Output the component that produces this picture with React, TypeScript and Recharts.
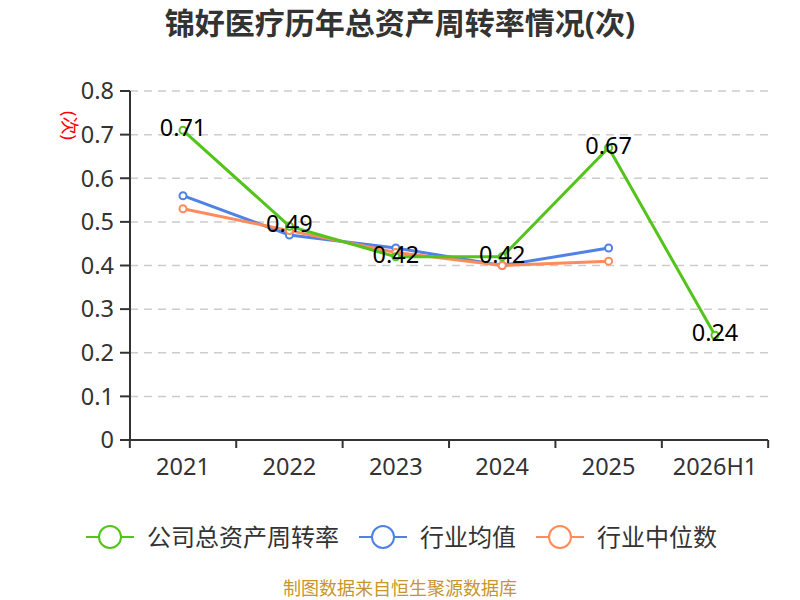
import { CartesianGrid, LabelList, Legend, Line, LineChart, XAxis, YAxis } from 'recharts';

const FONT = '"Noto Sans", "Noto Sans CJK SC", sans-serif';
const GREEN = '#52c41a';
const BLUE = '#4f81e6';
const ORANGE = '#ff8a5b';
const AXIS = '#333333';
const STEP = 638 / 6; // width of one category slot

const years = ['2021', '2022', '2023', '2024', '2025', '2026H1'];
const company = [0.71, 0.49, 0.42, 0.42, 0.67, 0.24];
const industryAvg = [0.56, 0.47, 0.44, 0.4, 0.44, null];
const industryMedian = [0.53, 0.48, 0.43, 0.4, 0.41, null];
const yTicks = [0, 0.1, 0.2, 0.3, 0.4, 0.5, 0.6, 0.7, 0.8];

const data = years.map((year, i) => ({
  year,
  company: company[i],
  avg: industryAvg[i],
  median: industryMedian[i],
}));

const legendItems = [
  { name: '公司总资产周转率', color: GREEN },
  { name: '行业均值', color: BLUE },
  { name: '行业中位数', color: ORANGE },
];

function ValueLabel(props: any) {
  const { x, y, value } = props;
  return (
    <text x={x} y={y - 3} textAnchor="middle" dominantBaseline="central" fontSize={23.5} fill="#000" fontFamily={FONT}>
      {value}
    </text>
  );
}

// category label in the middle, tick marks on the slot boundaries
function YearTick(props: any) {
  const { x, y, payload, index, visibleTicksCount } = props;
  const last = index === visibleTicksCount - 1;
  return (
    <g>
      <line x1={x - STEP / 2} y1={y} x2={x - STEP / 2} y2={y + 8} stroke={AXIS} strokeWidth={2} />
      {last && <line x1={x + STEP / 2} y1={y} x2={x + STEP / 2} y2={y + 8} stroke={AXIS} strokeWidth={2} />}
      <text x={x} y={y + 35} textAnchor="middle" fontSize={23.5} fill={AXIS} fontFamily={FONT}>
        {payload.value}
      </text>
    </g>
  );
}

function LegendContent() {
  return (
    <div style={{ display: 'flex', alignItems: 'center', fontFamily: FONT, fontSize: 24, color: '#333', lineHeight: '30px' }}>
      {legendItems.map((it) => (
        <div key={it.name} style={{ display: 'flex', alignItems: 'center', marginRight: 20 }}>
          <svg width={48} height={26} style={{ marginRight: 13 }}>
            <line x1={0} y1={13} x2={48} y2={13} stroke={it.color} strokeWidth={2} />
            <circle cx={24} cy={13} r={11} fill="#fff" stroke={it.color} strokeWidth={2} />
          </svg>
          <span>{it.name}</span>
        </div>
      ))}
    </div>
  );
}

const dot = (color: string) => ({ r: 3.5, fill: '#fff', stroke: color, strokeWidth: 2 });

export default function App() {
  return (
    <div style={{ position: 'absolute', left: 0, top: 0, width: 800, height: 600, background: '#fff', fontFamily: FONT, overflow: 'hidden' }}>
      <div style={{ position: 'absolute', top: 7, left: 0, width: 800, textAlign: 'center', fontSize: 30, lineHeight: '32px', fontWeight: 'bold', color: '#333' }}>
        锦好医疗历年总资产周转率情况(次)
      </div>
      <div
        style={{
          position: 'absolute',
          left: 79,
          top: 111,
          fontSize: 18,
          color: 'red',
          transform: 'rotate(90deg)',
          transformOrigin: 'left top',
          whiteSpace: 'nowrap',
          lineHeight: '19px',
        }}
      >
        (次)
      </div>
      <LineChart width={800} height={600} data={data} margin={{ top: 91, right: 32, bottom: 130, left: 0 }}>
        <CartesianGrid horizontal vertical={false} stroke="#cccccc" strokeDasharray="8 6" strokeWidth={1.5} />
        <XAxis
          dataKey="year"
          axisLine={{ stroke: AXIS, strokeWidth: 2 }}
          tickLine={false}
          tickSize={0}
          tickMargin={0}
          height={30}
          padding={{ left: 53, right: 53 }}
          tick={<YearTick />}
          interval={0}
        />
        <YAxis
          domain={[0, 0.8]}
          ticks={yTicks}
          width={130}
          axisLine={{ stroke: AXIS, strokeWidth: 2 }}
          tickLine={{ stroke: AXIS, strokeWidth: 2 }}
          tickSize={10}
          tickMargin={6}
          tick={{ fontSize: 23.5, fill: AXIS, fontFamily: FONT }}
          tickFormatter={(v) => String(Math.round(v * 10) / 10)}
        />
        <Legend
          layout="horizontal"
          verticalAlign="middle"
          align="center"
          content={<LegendContent />}
          wrapperStyle={{ top: 522, left: 86, width: 'auto' }}
        />
        <Line dataKey="avg" stroke={BLUE} strokeWidth={3} dot={dot(BLUE)} activeDot={false} isAnimationActive={false} />
        <Line dataKey="median" stroke={ORANGE} strokeWidth={3} dot={dot(ORANGE)} activeDot={false} isAnimationActive={false} />
        <Line dataKey="company" stroke={GREEN} strokeWidth={3} dot={dot(GREEN)} activeDot={false} isAnimationActive={false}>
          <LabelList dataKey="company" content={<ValueLabel />} />
        </Line>
      </LineChart>
      <div style={{ position: 'absolute', top: 578, left: 0, width: 800, textAlign: 'center', fontSize: 18, lineHeight: '20px', color: '#c8952c' }}>
        制图数据来自恒生聚源数据库
      </div>
    </div>
  );
}
